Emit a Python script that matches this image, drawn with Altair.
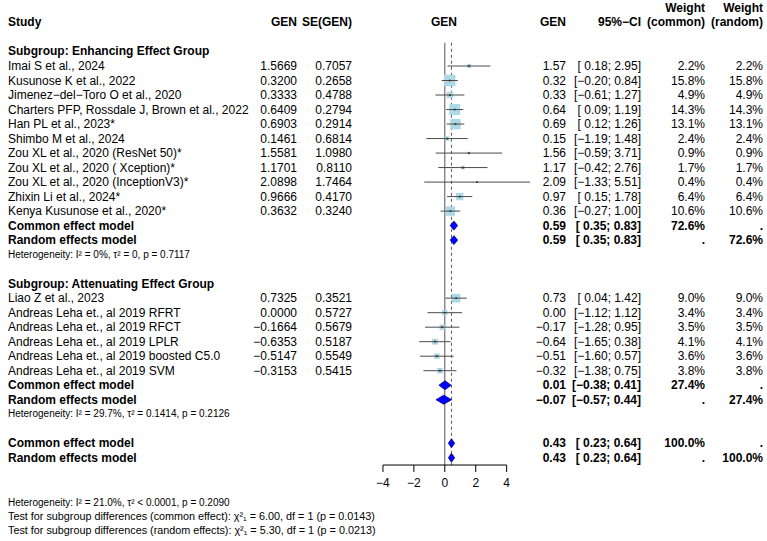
import altair as alt
import pandas as pd

FONT = "Liberation Sans"
M = "\u2212"

# ---------------- data ----------------
enh_study = ["Imai S et al., 2024", "Kusunose K et al., 2022",
             f"Jimenez{M}del{M}Toro O et al., 2020",
             "Charters PFP, Rossdale J, Brown et al., 2022", "Han PL et al., 2023*",
             "Shimbo M et al., 2024", "Zou XL et al., 2020 (ResNet 50)*",
             "Zou XL et al., 2020 ( Xception)*", "Zou XL et al., 2020 (InceptionV3)*",
             "Zhixin Li et al., 2024*", "Kenya Kusunose et al., 2020*"]
enh_gen = [1.5669, 0.3200, 0.3333, 0.6409, 0.6903, 0.1461, 1.5581, 1.1701, 2.0898, 0.9666, 0.3632]
enh_se = [0.7057, 0.2658, 0.4788, 0.2794, 0.2914, 0.6814, 1.0980, 0.8110, 1.7464, 0.4170, 0.3240]
enh_lower = [0.18, -0.20, -0.61, 0.09, 0.12, -1.19, -0.59, -0.42, -1.33, 0.15, -0.27]
enh_upper = [2.95, 0.84, 1.27, 1.19, 1.26, 1.48, 3.71, 2.76, 5.51, 1.78, 1.00]
enh_weight = [2.2, 15.8, 4.9, 14.3, 13.1, 2.4, 0.9, 1.7, 0.4, 6.4, 10.6]

att_study = ["Liao Z et al., 2023", "Andreas Leha et., al 2019 RFRT",
             "Andreas Leha et., al 2019 RFCT", "Andreas Leha et., al 2019 LPLR",
             "Andreas Leha et., al 2019 boosted C5.0", "Andreas Leha et., al 2019 SVM"]
att_gen = [0.7325, 0.0000, -0.1664, -0.6353, -0.5147, -0.3153]
att_se = [0.3521, 0.5727, 0.5679, 0.5187, 0.5549, 0.5415]
att_lower = [0.04, -1.12, -1.28, -1.65, -1.60, -1.38]
att_upper = [1.42, 1.12, 0.95, 0.38, 0.57, 0.75]
att_weight = [9.0, 3.4, 3.5, 4.1, 3.6, 3.8]

pooled_label = ["Common effect model", "Random effects model"] * 3
pooled_est = [0.59, 0.59, 0.01, -0.07, 0.43, 0.43]
pooled_lower = [0.35, 0.35, -0.38, -0.57, 0.23, 0.23]
pooled_upper = [0.83, 0.83, 0.41, 0.44, 0.64, 0.64]
pooled_wc = ["72.6%", ".", "27.4%", ".", "100.0%", "."]
pooled_wr = [".", "72.6%", ".", "27.4%", ".", "100.0%"]

het_text = ["Heterogeneity: I\u00b2 = 0%, \u03c4\u00b2 = 0, p = 0.7117",
            "Heterogeneity: I\u00b2 = 29.7%, \u03c4\u00b2 = 0.1414, p = 0.2126",
            "Heterogeneity: I\u00b2 = 21.0%, \u03c4\u00b2 < 0.0001, p = 0.2090"]
test_text = ["Test for subgroup differences (common effect): \u03c7\u00b2\u2081 = 6.00, df = 1 (p = 0.0143)",
             "Test for subgroup differences (random effects): \u03c7\u00b2\u2081 = 5.30, df = 1 (p = 0.0213)"]
ticks = [-4, -2, 0, 2, 4]
overall_est = 0.43


def f(v, d=2):
    s = f"{v:.{d}f}"
    return s.replace("-", M)


def ci(lo, hi):
    return "[" + (" " if lo >= 0 else "") + f(lo) + "; " + f(hi) + "]"


# ---------------- rows ----------------
study_rows = []
for i in range(len(enh_study)):
    study_rows.append(dict(r=i, label=enh_study[i], gen=f(enh_gen[i], 4), se=f(enh_se[i], 4),
                           est=enh_gen[i], est_s=f(enh_gen[i]), lo=enh_lower[i], hi=enh_upper[i],
                           ci=ci(enh_lower[i], enh_upper[i]), w=enh_weight[i],
                           wc=f"{enh_weight[i]:.1f}%", wr=f"{enh_weight[i]:.1f}%"))
for i in range(len(att_study)):
    study_rows.append(dict(r=16 + i, label=att_study[i], gen=f(att_gen[i], 4), se=f(att_se[i], 4),
                           est=att_gen[i], est_s=f(att_gen[i]), lo=att_lower[i], hi=att_upper[i],
                           ci=ci(att_lower[i], att_upper[i]), w=att_weight[i],
                           wc=f"{att_weight[i]:.1f}%", wr=f"{att_weight[i]:.1f}%"))
studies = pd.DataFrame(study_rows)

pooled_r = [11, 12, 22, 23, 26, 27]
pooled = pd.DataFrame(dict(r=pooled_r, label=pooled_label, est=pooled_est,
                           est_s=[f(v) for v in pooled_est],
                           ci=[ci(a, b) for a, b in zip(pooled_lower, pooled_upper)],
                           wc=pooled_wc, wr=pooled_wr))

H = 0.31
dia_rows = []
for k in range(len(pooled_r)):
    r = pooled_r[k]
    dia_rows += [dict(id=k, x=pooled_lower[k], y=r, y2=r),
                 dict(id=k, x=pooled_est[k], y=r - H, y2=r + H),
                 dict(id=k, x=pooled_upper[k], y=r, y2=r)]
diamonds = pd.DataFrame(dia_rows)

headers_bold = pd.DataFrame(dict(r=[-1, 15], label=["Subgroup: Enhancing Effect Group",
                                                    "Subgroup: Attenuating Effect Group"]))
het_df = pd.DataFrame(dict(r=[13, 24, 30.1], label=het_text))
test_df = pd.DataFrame(dict(r=[31.1, 32.05], label=test_text))

AX_R = 27.5
ticks_df = pd.DataFrame(dict(t=ticks, r=AX_R, r2=AX_R + 0.48, rl=AX_R + 1.25,
                             lab=[str(t).replace("-", M) for t in ticks]))
axis_df = pd.DataFrame(dict(a=[min(ticks)], b=[max(ticks)], r=[AX_R]))
ref_df = pd.DataFrame(dict(x=[0, overall_est], r1=[-1.6, -1.6], r2=[AX_R, AX_R], kind=["solid", "dash"]))

xs = alt.Scale(domain=[-28.77, 20.84], nice=False, zero=False)
ys = alt.Scale(domain=[-4.549, 32.736], nice=False, zero=False, reverse=True)


def X(field):
    return alt.X(field, type="quantitative", scale=xs, axis=None)


def Y(field):
    return alt.Y(field, type="quantitative", scale=ys, axis=None)


def txt(df, col, px, align, bold=False, size=12, ycol="r"):
    return alt.Chart(df).mark_text(align=align, baseline="middle", font=FONT, fontSize=size,
                                   fontWeight="bold" if bold else "normal", color="black").encode(
        x=alt.value(px), y=Y(ycol), text=alt.Text(col, type="nominal"))


layers = []

# reference lines
layers.append(alt.Chart(ref_df[ref_df.kind == "solid"]).mark_rule(color="#555555", strokeWidth=1).encode(
    x=X("x"), y=Y("r1"), y2=alt.Y2("r2")))
layers.append(alt.Chart(ref_df[ref_df.kind == "dash"]).mark_rule(color="#555555", strokeWidth=1,
                                                                strokeDash=[3, 3]).encode(
    x=X("x"), y=Y("r1"), y2=alt.Y2("r2")))

# squares
layers.append(alt.Chart(studies).mark_point(shape="square", filled=True, opacity=1, color="#add8e6").encode(
    x=X("est"), y=Y("r"),
    size=alt.Size("w", type="quantitative", scale=alt.Scale(domain=[0, 15.8], range=[0, 132]), legend=None)))
# CI lines
layers.append(alt.Chart(studies).mark_rule(color="#4a4a4a", strokeWidth=1).encode(
    x=X("lo"), x2=alt.X2("hi"), y=Y("r")))
layers.append(alt.Chart(studies).mark_point(shape="square", filled=True, opacity=1, color="#333333",
                                            size=3).encode(x=X("est"), y=Y("r")))
# diamonds
layers.append(alt.Chart(diamonds).mark_area(orient="vertical", color="#0000ff", stroke="#00008b",
                                            strokeWidth=0.8, opacity=1).encode(
    x=X("x"), y=Y("y"), y2=alt.Y2("y2"), detail="id:N"))

# axis
layers.append(alt.Chart(axis_df).mark_rule(color="black", strokeWidth=1).encode(
    x=X("a"), x2=alt.X2("b"), y=Y("r")))
layers.append(alt.Chart(ticks_df).mark_rule(color="black", strokeWidth=1).encode(
    x=X("t"), y=Y("r"), y2=alt.Y2("r2")))
layers.append(alt.Chart(ticks_df).mark_text(baseline="middle", align="center", font=FONT, fontSize=12,
                                            color="black").encode(x=X("t"), y=Y("rl"), text="lab:N"))

# header
hdr = pd.DataFrame(dict(r=[-3], r2=[-4]))
for label, px, align in [("Study", 8, "left"), ("GEN", 297, "right"), ("SE(GEN)", 352, "right"),
                         ("GEN", 444, "center"), ("GEN", 566, "right"), (f"95%{M}CI", 641, "right"),
                         ("(common)", 705, "right"), ("(random)", 763, "right")]:
    layers.append(alt.Chart(hdr).mark_text(align=align, baseline="middle", font=FONT, fontSize=12,
                                           fontWeight="bold", color="black", text=label).encode(
        x=alt.value(px), y=Y("r")))
for px in [705, 763]:
    layers.append(alt.Chart(hdr).mark_text(align="right", baseline="middle", font=FONT, fontSize=12,
                                           fontWeight="bold", color="black", text="Weight").encode(
        x=alt.value(px), y=Y("r2")))

# study text columns
layers += [txt(studies, "label", 8, "left"), txt(studies, "gen", 297, "right"),
           txt(studies, "se", 352, "right"), txt(studies, "est_s", 566, "right"),
           txt(studies, "ci", 641, "right"), txt(studies, "wc", 705, "right"),
           txt(studies, "wr", 763, "right")]
# pooled text
layers += [txt(pooled, "label", 8, "left", True), txt(pooled, "est_s", 566, "right", True),
           txt(pooled, "ci", 641, "right", True), txt(pooled, "wc", 705, "right", True),
           txt(pooled, "wr", 763, "right", True)]
layers += [txt(headers_bold, "label", 8, "left", True)]
layers += [txt(het_df, "label", 8, "left", False, 10)]
layers += [txt(test_df, "label", 8, "left", False, 10.8)]

chart = alt.layer(*layers).properties(
    width=767, height=541, padding=0, autosize=alt.AutoSizeParams(type="none"),
    background="white").configure_view(stroke=None)

chart.save("out.html", embed_options={"renderer": "svg", "actions": False})
